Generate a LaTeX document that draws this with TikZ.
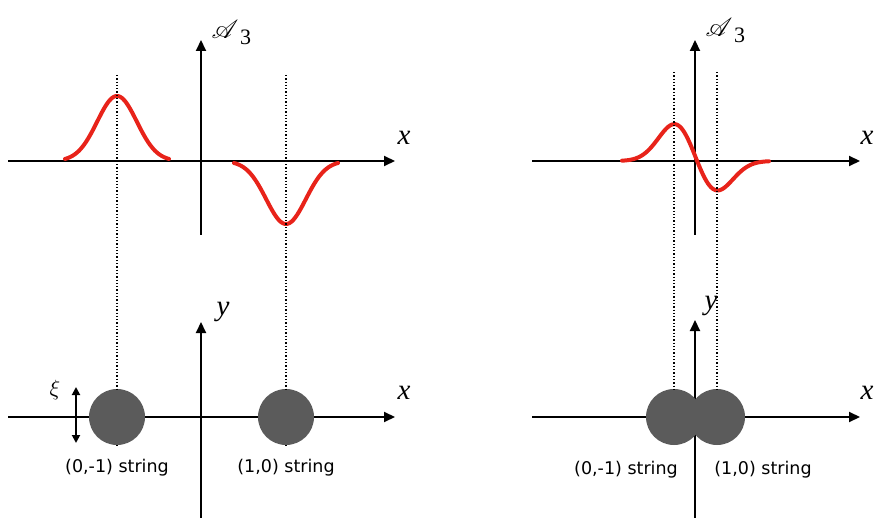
\documentclass[tikz,border=0pt]{standalone}
\usepackage{mathrsfs}
\usepackage{fontspec}
\newfontfamily\lblfont{DejaVu Sans}
\newfontfamily\serfont{Liberation Serif}
\usetikzlibrary{arrows.meta}
\definecolor{curvered}{HTML}{E8231A}
\definecolor{blobgray}{HTML}{5B5B5B}
\tikzset{
  axis/.style={line width=2pt,-{Triangle[length=11pt,width=10pt]}},
  guide/.style={line width=1.3pt,dotted},
  field/.style={line width=4pt,color=curvered,line cap=round},
  blob/.style={circle,fill=blobgray,minimum size=56pt,inner sep=0pt},
  lbl/.style={font=\lblfont\fontsize{17.5}{20}\selectfont,inner sep=0pt},
  mlbl/.style={font=\serfont\itshape\fontsize{29}{32}\selectfont,inner sep=0pt},
  scrA/.style={inner sep=0pt,anchor=base west,scale=2.6},
  subn/.style={inner sep=0pt,anchor=base west,font=\serfont\fontsize{22}{24}\selectfont},
}
\begin{document}
\begin{tikzpicture}[x=1pt,y=-1pt]
\useasboundingbox (0,0) rectangle (877,518);
% ---------- coordinates ----------
\coordinate (LTxs) at (8,161);   \coordinate (LTxe) at (395,161);
\coordinate (LTys) at (201,235); \coordinate (LTye) at (201,40);
\coordinate (LBxs) at (8,417);   \coordinate (LBxe) at (395,417);
\coordinate (LBys) at (201,518); \coordinate (LBye) at (201,322);
\coordinate (RTxs) at (532,161); \coordinate (RTxe) at (860,161);
\coordinate (RTys) at (695,235); \coordinate (RTye) at (695,40);
\coordinate (RBxs) at (532,417); \coordinate (RBxe) at (860,417);
\coordinate (RBys) at (695,518); \coordinate (RBye) at (695,320);
% ---------- axes ----------
\draw[axis] (LTxs) -- (LTxe);
\draw[axis] (LTys) -- (LTye);
\draw[axis] (LBxs) -- (LBxe);
\draw[axis] (LBys) -- (LBye);
\draw[axis] (RTxs) -- (RTxe);
\draw[axis] (RTys) -- (RTye);
\draw[axis] (RBxs) -- (RBxe);
\draw[axis] (RBys) -- (RBye);
% ---------- curves ----------
\draw[field] plot[domain=65:169,samples=80,smooth] (\x,{161-65*exp(-((\x-117)/28)^2)});
\draw[field] plot[domain=234:338,samples=80,smooth] (\x,{161+63*exp(-((\x-286)/28)^2)});
\draw[field] plot[domain=622:769,samples=100,smooth]
  (\x,{161-40*exp(-((\x-677)/25)^2)+33*exp(-((\x-714)/25)^2)});
% ---------- blobs ----------
\node[blob] (b1) at (117,417) {};
\node[blob] (b2) at (286,417) {};
\node[blob] (b3) at (674,417) {};
\node[blob] (b4) at (717,417) {};
% ---------- guides ----------
\coordinate (g1t) at (117,75);  \coordinate (g1b) at (117,445);
\coordinate (g2t) at (286,75);  \coordinate (g2b) at (286,445);
\coordinate (g3t) at (674,72);  \coordinate (g3b) at (674,389);
\coordinate (g4t) at (717,72);  \coordinate (g4b) at (717,389);
\draw[guide] (g1t) -- (b1.north);
\draw[guide] (b1.south) -- (g1b);
\draw[guide] (g2t) -- (b2.north);
\draw[guide] (b2.south) -- (g2b);
\draw[guide] (g3t) -- (g3b);
\draw[guide] (g4t) -- (g4b);
% ---------- xi arrow ----------
\coordinate (xia) at (76,387); \coordinate (xib) at (76,443);
\draw[line width=1.8pt,{Triangle[length=8pt,width=8pt]}-{Triangle[length=8pt,width=8pt]}] (xia) -- (xib);
\node[inner sep=0pt,scale=2.2] (xi) at (55,390) {$\xi$};
% ---------- labels ----------
\node[mlbl] (lx1) at (404,138) {x};
\node[mlbl] (lx2) at (404,393) {x};
\node[mlbl] (lx3) at (867,138) {x};
\node[mlbl] (lx4) at (867,393) {x};
\node[mlbl] (ly1) at (223,312) {y};
\node[mlbl] (ly2) at (711,306) {y};
\node[scrA] (la1) at (211,39) {$\mathscr{A}$};
\node[subn] (la1s) at (240,45) {3};
\node[scrA] (la2) at (705,37) {$\mathscr{A}$};
\node[subn] (la2s) at (734,43) {3};
\node[lbl] (s1) at (117,468) {(0,-1) string};
\node[lbl] (s2) at (286,468) {(1,0) string};
\node[lbl] (s3) at (626,470) {(0,-1) string};
\node[lbl] (s4) at (763,470) {(1,0) string};
\end{tikzpicture}
\end{document}
